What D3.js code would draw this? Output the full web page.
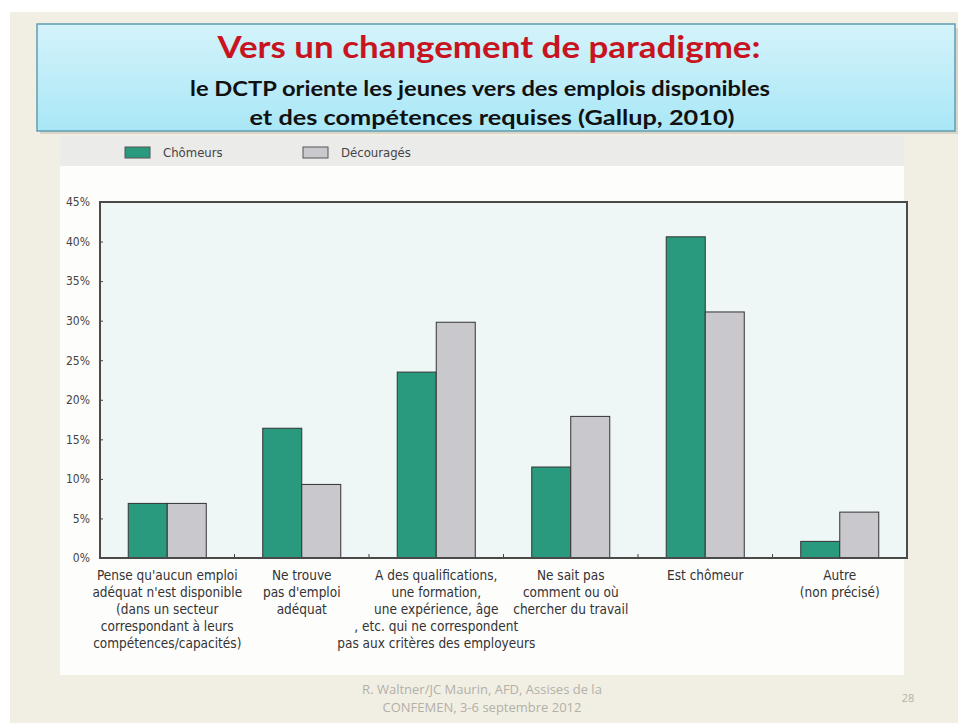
<!DOCTYPE html>
<html>
<head>
<meta charset="utf-8">
<script src="https://cdn.jsdelivr.net/npm/d3@7"></script>
<style>
  html, body { margin: 0; padding: 0; background: #ffffff; }
  svg { display: block; }
</style>
</head>
<body>
<svg id="chart" width="958" height="723"></svg>
<script>
// Reasons given for not looking for work (Gallup, 2010)
const categories = [
  ["Pense qu'aucun emploi", "adéquat n'est disponible", "(dans un secteur", "correspondant à leurs", "compétences/capacités)"],
  ["Ne trouve", "pas d'emploi", "adéquat"],
  ["A des qualifications,", "une formation,", "une expérience,  âge", ", etc. qui ne correspondent", "pas aux critères des employeurs"],
  ["Ne sait pas", "comment ou où", "chercher du travail"],
  ["Est chômeur"],
  ["Autre", "(non précisé)"]
];
const seriesNames = ["Chômeurs", "Découragés"];
const chomeurs   = [6.9, 16.4, 23.5, 11.5, 40.6, 2.1];
const decourages = [6.9, 9.3, 29.8, 17.9, 31.1, 5.8];
const yTicks = [0, 5, 10, 15, 20, 25, 30, 35, 40, 45];
const titleLines = ["Vers un changement de paradigme:",
  "le DCTP oriente les jeunes vers des emplois disponibles",
  "et des compétences requises (Gallup,  2010)"];
const footerLines = ["R. Waltner/JC Maurin, AFD, Assises de la", "CONFEMEN, 3-6 septembre 2012"];
const pageNumber = "28";

const colors = ["#2a9a7f", "#c9c9cd"];
const svg = d3.select("#chart");
const defs = svg.append("defs");

// slide background
svg.append("rect").attr("x", 10).attr("y", 12).attr("width", 948).attr("height", 711)
  .attr("fill", "#f1efe4");

// title banner
const grad = defs.append("linearGradient").attr("id", "banner").attr("x1", 0).attr("y1", 0).attr("x2", 0).attr("y2", 1);
grad.append("stop").attr("offset", "0%").attr("stop-color", "#d4f3fb");
grad.append("stop").attr("offset", "100%").attr("stop-color", "#a9e7f6");
svg.append("rect").attr("x", 40).attr("y", 28).attr("width", 918).attr("height", 106)
  .attr("fill", "#bdb8a8").attr("opacity", 0.45);
svg.append("rect").attr("x", 37).attr("y", 24).attr("width", 918).attr("height", 107)
  .attr("fill", "url(#banner)").attr("stroke", "#5f9fb0").attr("stroke-width", 1.5);

const titleFont = "Lato, 'Open Sans', sans-serif";
const titleSpec = [
  { x: 489, y: 58, size: 30, len: 543, fill: "#c8141e" },
  { x: 480, y: 96, size: 21, len: 580, fill: "#111" },
  { x: 492, y: 125, size: 21, len: 485, fill: "#111" }
];
titleSpec.forEach((s, i) => {
  svg.append("text").attr("x", s.x).attr("y", s.y).attr("text-anchor", "middle")
    .attr("font-family", titleFont).attr("font-weight", "bold")
    .attr("font-size", s.size).attr("fill", s.fill)
    .attr("textLength", s.len).attr("lengthAdjust", "spacingAndGlyphs")
    .text(titleLines[i]);
});

// chart image panel
svg.append("rect").attr("x", 60).attr("y", 136).attr("width", 844).attr("height", 539)
  .attr("fill", "#fdfdfc");
svg.append("rect").attr("x", 60).attr("y", 136).attr("width", 844).attr("height", 30)
  .attr("fill", "#ebebea");

const font = "'Liberation Sans Narrow', 'DejaVu Sans Condensed', 'Liberation Sans', sans-serif";

// legend
const legendX = [125, 303];
seriesNames.forEach((name, i) => {
  svg.append("rect").attr("x", legendX[i]).attr("y", 147).attr("width", 25).attr("height", 11)
    .attr("fill", colors[i]).attr("stroke", "#555").attr("stroke-width", 1);
  svg.append("text").attr("x", legendX[i] + 38).attr("y", 157)
    .attr("font-family", font).attr("font-size", 13).attr("fill", "#444").text(name);
});

// plot area
const plotLeft = 100, plotRight = 907, plotTop = 202, plotBottom = 558;
const x = d3.scaleBand().domain(d3.range(categories.length)).range([plotLeft, plotRight]).padding(0);
const y = d3.scaleLinear().domain([0, 45]).range([plotBottom, plotTop]);

svg.append("rect").attr("x", plotLeft).attr("y", plotTop).attr("width", plotRight - plotLeft).attr("height", plotBottom - plotTop)
  .attr("fill", "#eef6f6");

const barW = x.bandwidth() * 0.29;
const sub = d3.scaleBand().domain([0, 1]).range([0, barW * 2]);
const data = categories.map((c, i) => ({ i, values: [chomeurs[i], decourages[i]] }));

const groups = svg.append("g").selectAll("g").data(data).join("g")
  .attr("transform", d => `translate(${x(d.i) + x.bandwidth() / 2 - barW},0)`);
groups.selectAll("rect").data(d => d.values.map((v, k) => ({ v, k }))).join("rect")
  .attr("x", d => sub(d.k)).attr("width", sub.bandwidth())
  .attr("y", d => y(d.v)).attr("height", d => y(0) - y(d.v))
  .attr("fill", d => colors[d.k]).attr("stroke", "#333").attr("stroke-width", 1);

// y axis
const yAxis = d3.axisLeft(y).tickValues(yTicks).tickFormat(d => d + "%").tickSizeInner(-3).tickSizeOuter(0).tickPadding(10);
const gy = svg.append("g").attr("transform", `translate(${plotLeft},0)`).call(yAxis);
gy.select(".domain").remove();
gy.selectAll("line").attr("stroke", "#444");
gy.selectAll("text").attr("font-family", font).attr("font-size", 12).attr("fill", "#444");

// x axis ticks at category boundaries
const boundaries = d3.range(1, categories.length).map(i => x(i));
svg.append("g").selectAll("line").data(boundaries).join("line")
  .attr("x1", d => d).attr("x2", d => d).attr("y1", plotBottom).attr("y2", plotBottom - 4)
  .attr("stroke", "#444");

// frame
svg.append("rect").attr("x", plotLeft).attr("y", plotTop).attr("width", plotRight - plotLeft).attr("height", plotBottom - plotTop)
  .attr("fill", "none").attr("stroke", "#4a4a4a").attr("stroke-width", 2);

// category labels
const labelG = svg.append("g").selectAll("text").data(data).join("text")
  .attr("text-anchor", "middle").attr("font-family", font).attr("font-size", 13.5).attr("fill", "#333")
  .attr("transform", d => `translate(${x(d.i) + x.bandwidth() / 2},${plotBottom + 22})`);
labelG.selectAll("tspan").data(d => categories[d.i]).join("tspan")
  .attr("x", 0).attr("dy", (d, k) => k === 0 ? 0 : 17).text(d => d);

// footer
footerLines.forEach((t, i) => {
  svg.append("text").attr("x", 482).attr("y", 694 + i * 18).attr("text-anchor", "middle")
    .attr("font-family", "'Open Sans', sans-serif").attr("font-size", 13).attr("fill", "#b3b0a8").text(t);
});
svg.append("text").attr("x", 908).attr("y", 702).attr("text-anchor", "middle")
  .attr("font-family", "'Open Sans', sans-serif").attr("font-size", 11).attr("fill", "#b3b0a8").text(pageNumber);
</script>
</body>
</html>
